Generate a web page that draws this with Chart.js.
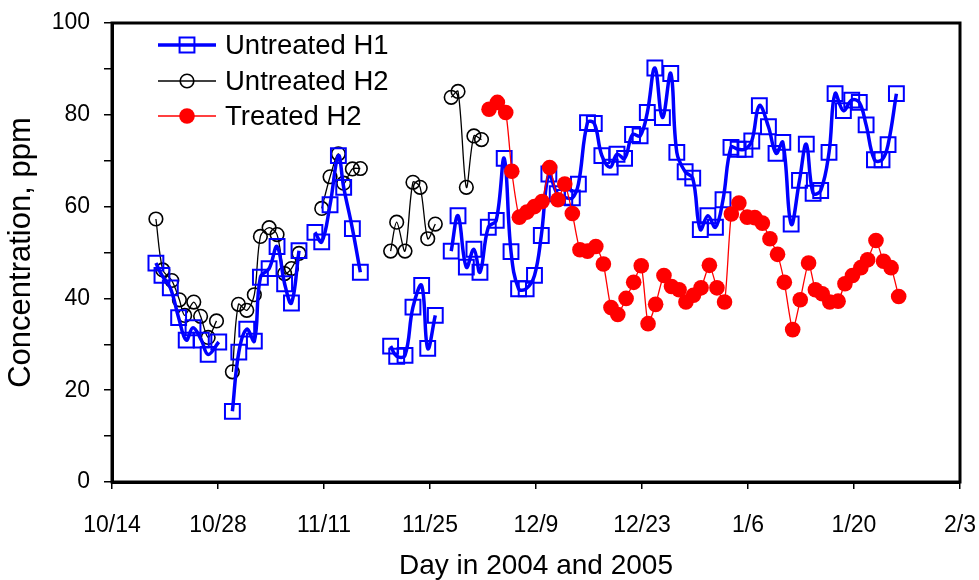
<!DOCTYPE html>
<html>
<head>
<meta charset="utf-8">
<script src="https://cdn.jsdelivr.net/npm/chart.js@4.4.1/dist/chart.umd.min.js"></script>
<style>
  html, body { margin: 0; padding: 0; background: #fff; }
  #wrap { width: 979px; height: 580px; }
</style>
</head>
<body>
<div id="wrap"><canvas id="chart" width="979" height="580"></canvas></div>
<script>
// x values are days counted from 10/14/2004; null values break the line
const xTickLabels = ['10/14', '10/28', '11/11', '11/25', '12/9', '12/23', '1/6', '1/20', '2/3'];

const h1Days = [5.8, 6.6, 7.7, 8.8, 9.8, 10.7, 11.8, 12.7, 14.1, 15.0,
  15.9, 16.75, 17.8, 18.8, 19.6, 20.75, 21.8, 22.8, 23.7, 24.7, 25.7,
  26.8, 27.7, 28.8, 29.9, 30.6, 31.75, 32.8, 34.8,
  36.8, 37.6, 38.7, 39.75, 40.9, 41.7, 42.7, 43.7,
  44.8, 45.7, 46.8, 47.8, 48.6, 49.7, 50.75, 51.8, 52.7, 53.7, 54.7, 55.8, 56.7, 57.7,
  58.8, 59.8, 60.8, 61.6, 62.8, 63.7, 64.7, 65.8, 66.7, 67.7, 68.75, 69.75, 70.7, 71.7,
  72.7, 73.8, 74.6, 75.7, 76.7, 77.7, 78.7, 79.7, 80.7, 81.75, 82.7, 83.6, 84.5, 85.5,
  86.7, 87.7, 88.6, 89.7, 90.8, 91.7, 92.6, 93.6, 94.7, 95.5, 96.6, 97.7, 98.7, 99.6,
  100.7, 101.7, 102.5, 103.6];
const h1Values = [47.7, 45.0, 42.3, 35.8, 30.9, 33.6, 30.9, 27.8, 30.5, null,
  15.4, 28.3, 33.3, 30.7, 44.6, 46.5, 51.3, 43.2, 39.0, 50.4, null,
  54.4, 52.3, 60.4, 71.1, 64.2, 55.2, 45.7, null,
  29.6, 27.4, 27.6, 38.1, 42.8, 29.1, 36.3, null,
  50.3, 58.0, 46.8, 50.7, 45.7, 55.5, 57.0, 70.5, 50.2, 42.1, 42.1, 45.0, 53.7, 67.1,
  62.8, 62.0, 61.9, 64.9, 78.3, 78.1, 71.1, 68.6, 71.4, 70.5, 75.7, 75.4, 80.5, 90.2,
  79.4, 89.0, 71.8, 67.6, 66.2, 55.0, 58.0, 55.5, 61.5, 72.9, 72.5, 72.5, 74.3, 82.0,
  77.4, 71.6, 74.0, 56.2, 65.7, 73.6, 62.9, 63.5, 71.8, 84.6, 80.9, 83.2, 82.7, 77.8,
  70.2, 70.2, 73.5, 84.6];

const h2Days = [5.8, 6.7, 7.9, 8.9, 9.6, 10.8, 11.7, 12.7, 13.8, 15.0,
  15.9, 16.7, 17.8, 18.8, 19.6, 20.75, 21.8, 22.8, 23.7, 24.7, 26.0,
  27.7, 28.8, 29.9, 30.6, 31.75, 32.8, 34.8,
  36.8, 37.6, 38.7, 39.75, 40.7, 41.7, 42.7, 43.7,
  44.8, 45.7, 46.8, 47.8, 48.8];
const h2Values = [57.3, 46.2, 43.9, 39.7, 36.3, 39.2, 36.1, 31.5, 35.1, null,
  24.0, 38.7, 37.4, 40.8, 53.5, 55.4, 53.9, 45.4, 46.5, 49.8, null,
  59.6, 66.5, 71.5, 65.1, 68.2, 68.3, null,
  50.3, 56.6, 50.3, 65.3, 64.2, 53.0, 56.2, null,
  83.8, 85.1, 64.2, 75.4, 74.6];

const treatedDays = [49.8, 50.9, 52.0, 52.8, 53.8, 54.8, 55.8, 56.8, 57.8, 58.9,
  59.8, 60.8, 61.8, 62.8, 63.9, 64.9, 65.9, 66.8, 67.9, 68.9, 69.9, 70.8, 71.8,
  72.9, 73.9, 74.9, 75.8, 76.8, 77.8, 78.9, 79.9, 80.9, 81.8, 82.8, 83.9, 84.9,
  85.9, 86.9, 87.9, 88.8, 89.9, 90.9, 92.0, 92.9, 93.8, 94.8, 95.9, 96.8, 97.8,
  98.9, 99.8, 100.9, 101.9, 102.9, 103.9];
const treatedValues = [81.2, 82.7, 80.5, 67.7, 57.7, 58.8, 60.0, 61.1, 68.5, 61.5,
  64.9, 58.5, 50.6, 50.3, 51.3, 47.5, 38.0, 36.5, 40.0, 43.5, 47.1, 34.5, 38.7,
  45.0, 42.6, 41.9, 39.2, 40.7, 42.3, 47.2, 42.3, 39.2, 58.4, 60.8, 57.7, 57.6,
  56.4, 53.0, 49.6, 43.5, 33.2, 39.7, 47.7, 41.9, 41.0, 39.2, 39.4, 43.2, 45.0,
  46.7, 48.4, 52.6, 48.1, 46.7, 40.4];

const seriesNames = ['Untreated H1', 'Untreated H2', 'Treated H2'];

function toPoints(xs, ys) {
  return xs.map((x, i) => ({ x: x, y: ys[i] }));
}

const FONT = '"Liberation Sans", Arial, sans-serif';

// box round the plot area plus a legend inside it
const frameAndLegend = {
  id: 'frameAndLegend',
  afterDatasetsDraw(chart) {
    const { ctx, chartArea } = chart;
    ctx.save();
    ctx.strokeStyle = '#000';
    ctx.lineWidth = 3;
    ctx.strokeRect(chartArea.left, chartArea.top, chartArea.right - chartArea.left, chartArea.bottom - chartArea.top);

    const rows = [45, 81, 116];
    chart.data.datasets.forEach((ds, i) => {
      const y = rows[i];
      ctx.strokeStyle = ds.borderColor;
      ctx.lineWidth = ds.borderWidth;
      ctx.beginPath();
      ctx.moveTo(158, y);
      ctx.lineTo(216, y);
      ctx.stroke();
      ctx.fillStyle = ds.pointBackgroundColor;
      ctx.strokeStyle = ds.pointBorderColor;
      ctx.lineWidth = ds.pointBorderWidth;
      ctx.beginPath();
      if (ds.pointStyle === 'rect') {
        const s = Math.SQRT1_2 * ds.pointRadius;
        ctx.rect(187 - s, y - s, 2 * s, 2 * s);
      } else {
        ctx.arc(187, y, ds.pointRadius, 0, Math.PI * 2);
      }
      ctx.fill();
      if (ds.pointBorderWidth > 0) ctx.stroke();
      ctx.fillStyle = '#000';
      ctx.font = '27.5px ' + FONT;
      ctx.textBaseline = 'middle';
      ctx.fillText(ds.label, 225, y + 1);
    });
    ctx.restore();
  }
};

new Chart(document.getElementById('chart'), {
  type: 'line',
  data: {
    datasets: [{
      label: seriesNames[0],
      data: toPoints(h1Days, h1Values),
      borderColor: '#0000ff',
      borderWidth: 3.5,
      tension: 0.4,
      pointStyle: 'rect',
      pointRadius: 10.5,
      pointBorderWidth: 2,
      pointBorderColor: '#0000ff',
      pointBackgroundColor: 'rgba(0,0,0,0)',
      order: 1
    }, {
      label: seriesNames[1],
      data: toPoints(h2Days, h2Values),
      borderColor: '#000000',
      borderWidth: 1.3,
      tension: 0.3,
      pointStyle: 'circle',
      pointRadius: 6.8,
      pointBorderWidth: 1.6,
      pointBorderColor: '#000000',
      pointBackgroundColor: 'rgba(0,0,0,0)',
      order: 2
    }, {
      label: seriesNames[2],
      data: toPoints(treatedDays, treatedValues),
      borderColor: '#ff0000',
      borderWidth: 1.3,
      tension: 0.2,
      pointStyle: 'circle',
      pointRadius: 7.8,
      pointBorderWidth: 0,
      pointBorderColor: '#ff0000',
      pointBackgroundColor: '#ff0000',
      order: 0
    }]
  },
  options: {
    responsive: false,
    animation: false,
    devicePixelRatio: 1,
    spanGaps: false,
    layout: { padding: { top: 23, right: 19, left: 0, bottom: 0 } },
    plugins: { legend: { display: false }, tooltip: { enabled: false } },
    scales: {
      x: {
        type: 'linear',
        min: 0,
        max: 112,
        afterFit: (s) => { s.height = 98; s.paddingLeft = 0; s.paddingRight = 0; },
        ticks: {
          stepSize: 14,
          autoSkip: false,
          maxRotation: 0,
          color: '#000',
          padding: 23,
          font: { family: FONT, size: 23 },
          callback: (v) => xTickLabels[Math.round(v / 14)]
        },
        grid: { drawOnChartArea: false, color: '#000', lineWidth: 1.5, tickLength: 7 },
        border: { color: '#000', width: 3 },
        title: {
          display: true,
          text: 'Day in 2004 and 2005',
          color: '#000',
          font: { family: FONT, size: 28 },
          padding: { top: 0, bottom: -3 }
        }
      },
      y: {
        min: 0,
        max: 100,
        afterFit: (s) => { s.width = 112; s.paddingTop = 0; s.paddingBottom = 0; },
        ticks: {
          stepSize: 10,
          autoSkip: false,
          color: '#000',
          padding: 14,
          font: { family: FONT, size: 23 },
          callback: (v) => (v % 20 === 0 ? v : '')
        },
        grid: { drawOnChartArea: false, color: '#000', lineWidth: 1.5, tickLength: 8 },
        border: { color: '#000', width: 3 },
        title: {
          display: true,
          text: 'Concentration, ppm',
          color: '#000',
          font: { family: FONT, size: 31 },
          padding: { top: 3, bottom: 0 }
        }
      }
    }
  },
  plugins: [frameAndLegend]
});
</script>
</body>
</html>
